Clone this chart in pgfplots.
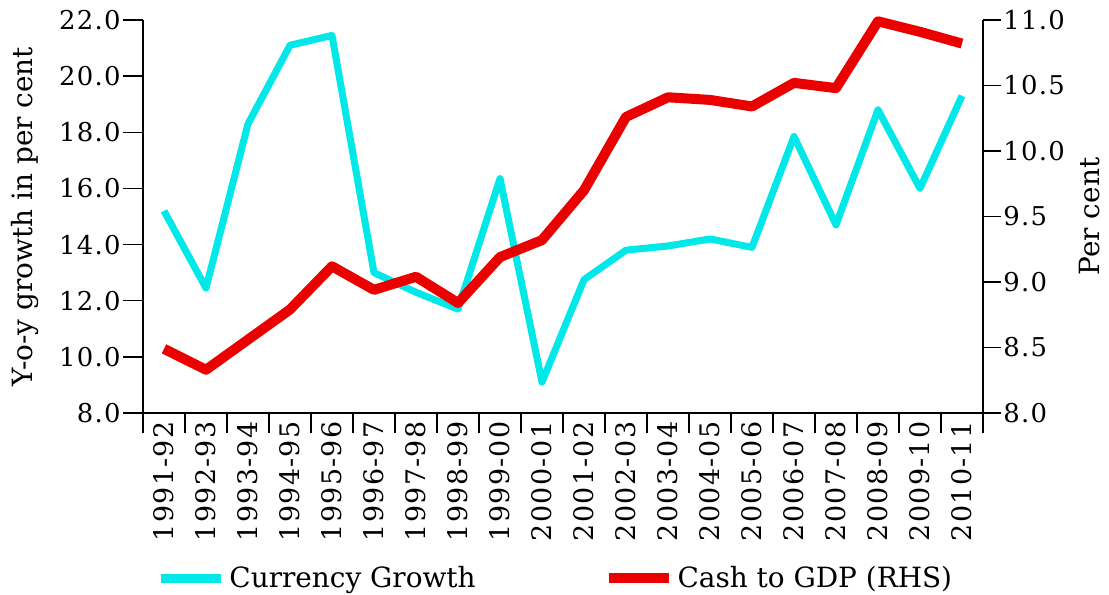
\documentclass[border=0pt]{standalone}
\usepackage{fontspec}
\setmainfont{DejaVu Serif}
\newfontfamily\tickfont[LetterSpace=5]{DejaVu Serif}
\usepackage{pgfplots}
\pgfplotsset{compat=1.18}
\definecolor{cgrow}{RGB}{0,232,232}
\definecolor{cgdp}{RGB}{235,0,0}
\pgfplotstableread{
x cur gdp
0 15.2 8.49
1 12.45 8.33
2 18.3 8.56
3 21.1 8.79
4 21.45 9.12
5 13.0 8.94
6 12.3 9.04
7 11.7 8.84
8 16.35 9.19
9 9.1 9.32
10 12.75 9.70
11 13.8 10.26
12 13.95 10.41
13 14.2 10.39
14 13.9 10.34
15 17.85 10.52
16 14.7 10.48
17 18.8 10.99
18 16.0 10.91
19 19.3 10.82
}\datatable
\begin{document}
\begin{tikzpicture}[font=\fontsize{14}{16}\selectfont]
\useasboundingbox (-71.5bp,-91bp) rectangle (483bp,206.5bp);
\begin{axis}[
  at={(0,0)}, anchor=south west,
  scale only axis, width=420bp, height=196.5bp,
  xmin=-0.5, xmax=19.5, ymin=8, ymax=22,
  axis x line*=bottom, axis y line*=left,
  ytick={8,10,...,22},
  yticklabel style={font=\tickfont\fontsize{13}{15}\selectfont, inner sep=1pt, /pgf/number format/.cd, fixed, fixed zerofill, precision=1, assume math mode=true},
  xtick={0,...,19},
  xticklabels={1991-92,1992-93,1993-94,1994-95,1995-96,1996-97,1997-98,1998-99,1999-00,2000-01,2001-02,2002-03,2003-04,2004-05,2005-06,2006-07,2007-08,2008-09,2009-10,2010-11},
  major x tick style={draw=none},
  minor xtick={-0.5,0.5,...,19.5},
  tick align=outside,
  major tick length=10bp, minor tick length=10bp,
  x tick label style={rotate=90, anchor=east, font=\tickfont\fontsize{13.5}{15}\selectfont, inner sep=0pt},
  xticklabel shift={-6bp},
  every axis y label/.style={at={(axis description cs:-0.1405,0.5)}, rotate=90, anchor=center},
  ylabel={Y-o-y growth in per cent},
  every tick/.style={black, line width=0.7pt},
  axis line style={line width=0.7pt},
  clip=false,
]
\addplot[cgrow, line width=3.5bp, line join=round] table[x=x,y=cur]{\datatable};
\end{axis}
\begin{axis}[
  at={(0,0)}, anchor=south west,
  scale only axis, width=420bp, height=196.5bp,
  xmin=-0.5, xmax=19.5, ymin=8, ymax=11,
  axis x line=none, axis y line*=right,
  ytick={8,8.5,...,11},
  yticklabel style={font=\tickfont\fontsize{13}{15}\selectfont, inner sep=1pt, /pgf/number format/.cd, fixed, fixed zerofill, precision=1, assume math mode=true},
  tick align=outside, major tick length=9bp,
  every tick/.style={black, line width=0.7pt},
  axis line style={line width=0.7pt},
  every axis y label/.style={at={(axis description cs:1.1274,0.5)}, rotate=90, anchor=center},
  ylabel={Per cent},
  legend style={at={(axis description cs:0.492,0)}, anchor=center, yshift=-82.5bp, draw=none, fill=none, legend columns=2, inner sep=0pt,
    nodes={inner sep=2pt},
    /tikz/every even column/.append style={column sep=62bp}},
  legend image code/.code={\draw[#1] (0bp,0bp) -- (30bp,0bp);},
  clip=false,
]
\addlegendimage{cgrow, line width=4.5bp}
\addlegendentry{Currency Growth}
\addplot[cgdp, line width=5bp, line join=round] table[x=x,y=gdp]{\datatable};
\addlegendentry{Cash to GDP (RHS)}
\end{axis}
\end{tikzpicture}
\end{document}
